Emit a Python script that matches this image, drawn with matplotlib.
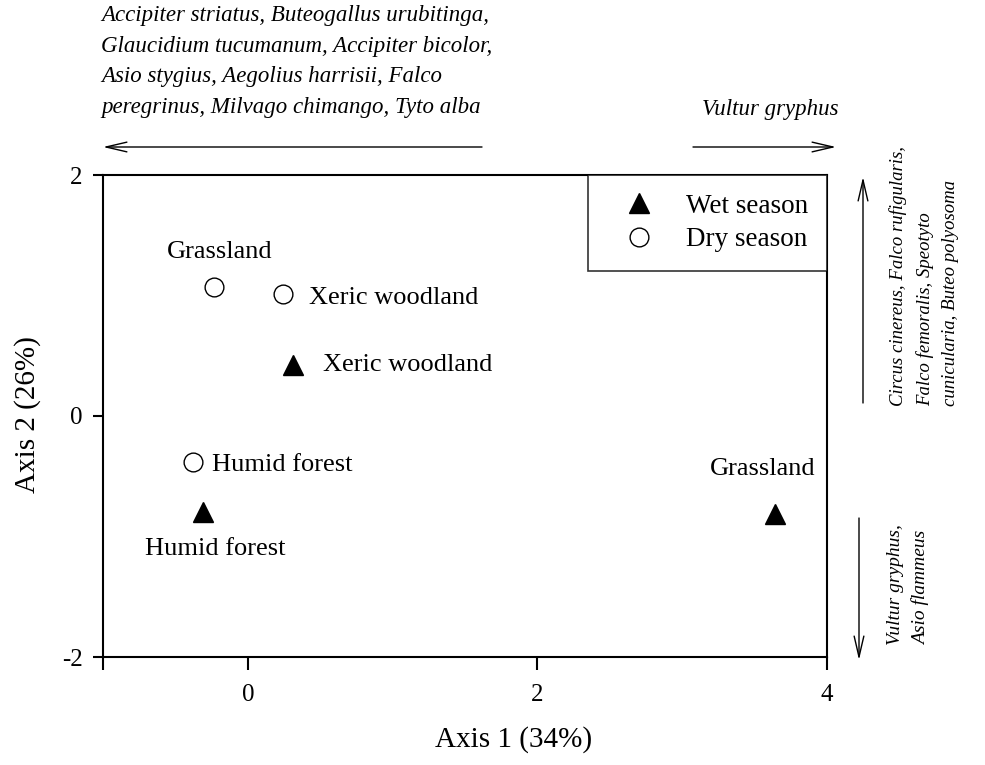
import matplotlib
matplotlib.use("Agg")
import matplotlib.pyplot as plt

plt.rcParams["font.family"] = ["Liberation Serif", "DejaVu Serif"]

# ordination scores
wet_sites = ["Xeric woodland", "Humid forest", "Grassland"]
wet_x = [0.31, -0.31, 3.64]
wet_y = [0.42, -0.80, -0.81]

dry_sites = ["Grassland", "Xeric woodland", "Humid forest"]
dry_x = [-0.23, 0.24, -0.38]
dry_y = [1.07, 1.01, -0.38]

x_ticks = [-1, 0, 2, 4]
x_tick_labels = ["", "0", "2", "4"]
y_ticks = [-2, 0, 2]
y_tick_labels = ["-2", "0", "2"]

top_left_species = ("Accipiter striatus, Buteogallus urubitinga,\n"
                    "Glaucidium tucumanum, Accipiter bicolor,\n"
                    "Asio stygius, Aegolius harrisii, Falco\n"
                    "peregrinus, Milvago chimango, Tyto alba")
top_right_species = "Vultur gryphus"
right_up_species = ("Circus cinereus, Falco rufigularis,\n"
                    "Falco femoralis, Speotyto\n"
                    "cunicularia, Buteo polyosoma")
right_down_species = "Vultur gryphus,\nAsio flammeus"

W, H = 985, 765
fig = plt.figure(figsize=(W / 100, H / 100), dpi=100)
ax = fig.add_axes([103 / W, 1 - 657 / H, 724 / W, 482 / H])


def fx(px):
    return px / W


def fy(py):
    return 1 - py / H


ax.plot(wet_x, wet_y, linestyle="none", marker="^", markersize=14,
        color="black", label="Wet season")
ax.plot(dry_x, dry_y, linestyle="none", marker="o", markersize=13.5,
        markerfacecolor="white", markeredgecolor="black", markeredgewidth=1,
        label="Dry season")

ax.set_xlim(-1, 4)
ax.set_ylim(-2, 2)
ax.set_xticks(x_ticks)
ax.set_xticklabels(x_tick_labels)
ax.set_yticks(y_ticks)
ax.set_yticklabels(y_tick_labels)
ax.tick_params(axis="x", direction="out", length=9.5, width=1.5,
               labelsize=18, pad=10)
ax.tick_params(axis="y", direction="out", length=7.5, width=1.5,
               labelsize=18, pad=7)
for sp in ax.spines.values():
    sp.set_linewidth(1.5)

fig.text(fx(514), fy(740), "Axis 1 (34%)", fontsize=21, ha="center",
         va="center")
fig.text(fx(28), fy(415), "Axis 2 (26%)", fontsize=21, ha="center",
         va="center", rotation=90)

# point labels, offsets in points
pt = dict(textcoords="offset points", fontsize=19)
ax.annotate(dry_sites[0], (dry_x[0], dry_y[0]), xytext=(4, 25),
            ha="center", va="center", **pt)
ax.annotate(dry_sites[1], (dry_x[1], dry_y[1]), xytext=(19, -3),
            ha="left", va="center", **pt)
ax.annotate(dry_sites[2], (dry_x[2], dry_y[2]), xytext=(13.5, -2),
            ha="left", va="center", **pt)
ax.annotate(wet_sites[0], (wet_x[0], wet_y[0]), xytext=(22, 0),
            ha="left", va="center", **pt)
ax.annotate(wet_sites[1], (wet_x[1], wet_y[1]), xytext=(9, -26),
            ha="center", va="center", **pt)
ax.annotate(wet_sites[2], (wet_x[2], wet_y[2]), xytext=(-9, 32),
            ha="center", va="center", **pt)

leg = ax.legend(loc="upper right", bbox_to_anchor=(1.0, 1.0), frameon=True,
                fancybox=False, fontsize=19.5, borderpad=0.7,
                handlelength=2.3, handletextpad=0.6, labelspacing=0.3,
                borderaxespad=0)
leg.get_frame().set_edgecolor("black")
leg.get_frame().set_linewidth(1.2)

# species loading annotations around the plot
fig.text(fx(101), fy(5), top_left_species, fontsize=16.5, style="italic",
         ha="left", va="top", linespacing=1.6)
fig.text(fx(838), fy(115), top_right_species, fontsize=16.5,
         style="italic", ha="right", va="baseline")
fig.text(fx(889), fy(406), right_up_species, fontsize=13.5, style="italic",
         rotation=90, ha="left", va="bottom", linespacing=1.65)
fig.text(fx(887), fy(645), right_down_species, fontsize=14,
         style="italic", rotation=90, ha="left", va="bottom",
         linespacing=1.6)

arrow = dict(arrowstyle="->,head_length=1.5,head_width=0.35", color="black",
             lw=1, shrinkA=0, shrinkB=0)
ax.annotate("", xy=(fx(103), fy(147)), xytext=(fx(482), fy(147)),
            xycoords="figure fraction", arrowprops=arrow)
ax.annotate("", xy=(fx(836), fy(147)), xytext=(fx(693), fy(147)),
            xycoords="figure fraction", arrowprops=arrow)
ax.annotate("", xy=(fx(863), fy(177)), xytext=(fx(863), fy(403)),
            xycoords="figure fraction", arrowprops=arrow)
ax.annotate("", xy=(fx(859), fy(660)), xytext=(fx(859), fy(518)),
            xycoords="figure fraction", arrowprops=arrow)

fig.savefig("out.png", dpi=100)
